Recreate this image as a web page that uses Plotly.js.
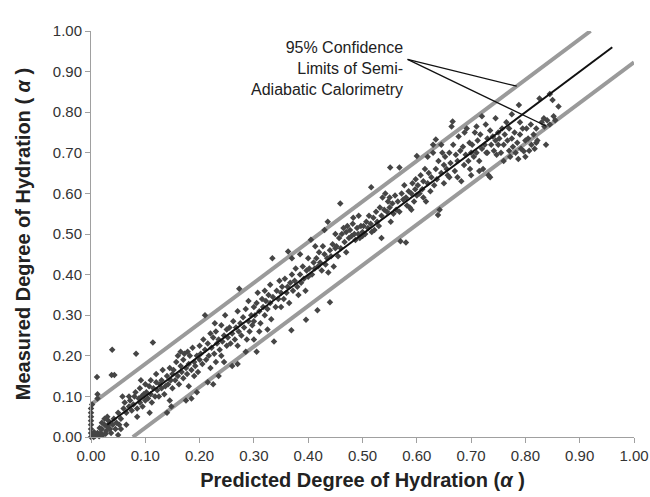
<!DOCTYPE html>
<html>
<head>
<meta charset="utf-8">
<script src="https://cdn.plot.ly/plotly-3.0.1.min.js"></script>
<style>html,body{margin:0;padding:0;background:#fff;}#chart{width:650px;height:497px;}</style>
</head>
<body>
<div id="chart"></div>
<script>
// Measured vs predicted degree of hydration
const ptsOrigin = [[0,0],[0,0.01],[0,0.02],[0,0.03],[0,0.04],[0,0.05],[0,0.06],[0,0.07],[0.002,0.08],[0.003,0.005],[0.005,0],[0.008,0.003],[0.01,0.005],[0.012,0.01],[0.015,0.002],[0.018,0.01],[0.02,0.02],[0.022,0.005],[0.025,0.03],[0.028,0.015],[0.03,0.025],[0.032,0.04],[0.035,0.02],[0.037,0.01],[0.04,0.03],[0.042,0.045],[0.045,0.02],[0.05,0.005],[0.055,0.02],[0.03,0.05],[0.025,0.045],[0.02,0.035],[0.011,0.148],[0.039,0.215],[0.038,0.153],[0.043,0.153],[0.083,0.205],[0.114,0.233],[0.012,0.105],[0.012,0.095],[0.006,0.012],[0.016,0.022],[0.027,0.008],[0.033,0.032],[0.047,0.035],[0.052,0.03]];
const pts005 = [[0.05,0.06],[0.055,0.045],[0.06,0.07],[0.062,0.085],[0.065,0.06],[0.07,0.075],[0.07,0.1],[0.072,0.09],[0.075,0.065],[0.078,0.08],[0.08,0.1],[0.082,0.11],[0.085,0.07],[0.088,0.095],[0.09,0.085],[0.09,0.12],[0.093,0.1],[0.095,0.075],[0.097,0.105],[0.1,0.09],[0.1,0.13],[0.058,0.1],[0.065,0.03],[0.085,0.05],[0.092,0.14]];
const pts010 = [[0.102,0.11],[0.105,0.095],[0.107,0.125],[0.11,0.105],[0.11,0.14],[0.112,0.085],[0.115,0.12],[0.118,0.1],[0.12,0.135],[0.12,0.155],[0.122,0.115],[0.125,0.1],[0.127,0.13],[0.13,0.14],[0.13,0.12],[0.132,0.165],[0.135,0.105],[0.137,0.125],[0.14,0.15],[0.14,0.06],[0.142,0.13],[0.145,0.09],[0.145,0.17],[0.147,0.14],[0.15,0.12],[0.15,0.155],[0.148,0.075],[0.108,0.06]];
const pts015 = [[0.152,0.165],[0.155,0.14],[0.157,0.185],[0.16,0.15],[0.16,0.2],[0.162,0.13],[0.165,0.175],[0.167,0.16],[0.17,0.145],[0.17,0.19],[0.172,0.205],[0.175,0.17],[0.177,0.155],[0.18,0.18],[0.18,0.125],[0.182,0.2],[0.185,0.165],[0.187,0.22],[0.19,0.185],[0.19,0.15],[0.192,0.175],[0.195,0.2],[0.197,0.16],[0.2,0.19],[0.2,0.225],[0.185,0.095],[0.175,0.09],[0.195,0.11],[0.165,0.21],[0.178,0.21]];
const pts020 = [[0.202,0.205],[0.205,0.18],[0.207,0.24],[0.21,0.215],[0.21,0.3],[0.212,0.19],[0.215,0.23],[0.217,0.2],[0.22,0.255],[0.22,0.17],[0.222,0.22],[0.225,0.245],[0.227,0.205],[0.23,0.26],[0.23,0.185],[0.232,0.23],[0.235,0.24],[0.237,0.215],[0.24,0.275],[0.24,0.2],[0.242,0.235],[0.245,0.25],[0.247,0.3],[0.25,0.225],[0.25,0.265],[0.215,0.135],[0.225,0.13],[0.235,0.15],[0.245,0.185],[0.228,0.28]];
const pts025 = [[0.252,0.245],[0.255,0.27],[0.257,0.23],[0.26,0.255],[0.262,0.285],[0.265,0.24],[0.267,0.27],[0.27,0.31],[0.27,0.225],[0.272,0.26],[0.273,0.365],[0.275,0.28],[0.277,0.25],[0.28,0.295],[0.282,0.27],[0.285,0.315],[0.287,0.24],[0.29,0.285],[0.29,0.335],[0.292,0.26],[0.295,0.3],[0.297,0.275],[0.3,0.32],[0.3,0.285],[0.26,0.175],[0.27,0.18],[0.285,0.21],[0.305,0.21],[0.3,0.24]];
const pts030 = [[0.302,0.3],[0.305,0.33],[0.307,0.355],[0.31,0.31],[0.312,0.28],[0.315,0.34],[0.317,0.32],[0.32,0.3],[0.32,0.36],[0.322,0.335],[0.325,0.315],[0.327,0.35],[0.33,0.33],[0.33,0.375],[0.332,0.29],[0.334,0.44],[0.335,0.345],[0.337,0.235],[0.34,0.32],[0.342,0.36],[0.345,0.34],[0.347,0.385],[0.35,0.355],[0.35,0.32],[0.31,0.26],[0.325,0.265]];
const pts035 = [[0.352,0.37],[0.355,0.34],[0.357,0.39],[0.36,0.355],[0.362,0.37],[0.363,0.457],[0.365,0.33],[0.367,0.38],[0.369,0.263],[0.37,0.4],[0.372,0.36],[0.375,0.385],[0.377,0.415],[0.38,0.37],[0.382,0.35],[0.385,0.4],[0.387,0.38],[0.39,0.42],[0.392,0.39],[0.395,0.36],[0.396,0.289],[0.397,0.41],[0.4,0.395],[0.4,0.44],[0.37,0.44],[0.385,0.45]];
const pts040 = [[0.402,0.415],[0.405,0.486],[0.407,0.4],[0.41,0.43],[0.412,0.415],[0.415,0.44],[0.417,0.312],[0.418,0.42],[0.42,0.455],[0.422,0.43],[0.425,0.41],[0.427,0.47],[0.43,0.45],[0.432,0.425],[0.435,0.44],[0.436,0.53],[0.437,0.405],[0.44,0.332],[0.44,0.46],[0.442,0.445],[0.445,0.475],[0.447,0.42],[0.45,0.465],[0.45,0.5],[0.413,0.47],[0.43,0.51]];
const pts045 = [[0.452,0.47],[0.455,0.445],[0.457,0.49],[0.459,0.575],[0.46,0.465],[0.462,0.5],[0.465,0.515],[0.467,0.48],[0.47,0.505],[0.472,0.52],[0.475,0.49],[0.477,0.51],[0.48,0.495],[0.482,0.525],[0.485,0.5],[0.487,0.485],[0.49,0.515],[0.492,0.5],[0.495,0.49],[0.497,0.52],[0.5,0.505],[0.5,0.495],[0.47,0.455],[0.483,0.54],[0.493,0.545]];
const pts050 = [[0.502,0.52],[0.505,0.5],[0.507,0.53],[0.51,0.515],[0.512,0.545],[0.515,0.525],[0.516,0.615],[0.517,0.505],[0.52,0.54],[0.522,0.51],[0.525,0.555],[0.527,0.53],[0.53,0.52],[0.532,0.565],[0.535,0.545],[0.537,0.59],[0.54,0.56],[0.542,0.6],[0.545,0.555],[0.547,0.58],[0.55,0.565],[0.551,0.664],[0.55,0.59],[0.535,0.49],[0.552,0.53]];
const pts055 = [[0.555,0.575],[0.557,0.55],[0.56,0.595],[0.562,0.56],[0.565,0.58],[0.568,0.664],[0.568,0.555],[0.57,0.482],[0.572,0.6],[0.575,0.585],[0.577,0.62],[0.58,0.479],[0.58,0.59],[0.582,0.57],[0.585,0.605],[0.587,0.565],[0.59,0.6],[0.592,0.625],[0.595,0.58],[0.597,0.61],[0.6,0.692],[0.6,0.595],[0.59,0.56],[0.598,0.635]];
const pts060 = [[0.602,0.62],[0.605,0.6],[0.607,0.645],[0.61,0.61],[0.612,0.63],[0.615,0.66],[0.617,0.58],[0.62,0.625],[0.622,0.65],[0.625,0.605],[0.627,0.64],[0.63,0.7],[0.632,0.62],[0.635,0.733],[0.635,0.66],[0.637,0.635],[0.639,0.547],[0.64,0.68],[0.642,0.56],[0.645,0.65],[0.647,0.7],[0.65,0.67],[0.65,0.625],[0.62,0.69],[0.63,0.72],[0.645,0.72],[0.612,0.59]];
const pts065 = [[0.652,0.69],[0.655,0.66],[0.657,0.645],[0.66,0.7],[0.662,0.675],[0.664,0.765],[0.666,0.777],[0.667,0.72],[0.67,0.655],[0.672,0.695],[0.675,0.68],[0.677,0.74],[0.68,0.705],[0.682,0.63],[0.685,0.715],[0.687,0.67],[0.69,0.695],[0.692,0.76],[0.695,0.68],[0.697,0.725],[0.7,0.7],[0.7,0.645],[0.675,0.64],[0.688,0.75],[0.698,0.66],[0.66,0.64]];
const pts070 = [[0.702,0.72],[0.705,0.69],[0.707,0.75],[0.71,0.765],[0.71,0.7],[0.712,0.73],[0.715,0.68],[0.717,0.745],[0.72,0.71],[0.72,0.79],[0.722,0.66],[0.725,0.72],[0.727,0.77],[0.73,0.735],[0.73,0.7],[0.732,0.645],[0.735,0.64],[0.735,0.755],[0.737,0.72],[0.74,0.74],[0.742,0.705],[0.745,0.785],[0.745,0.73],[0.747,0.695],[0.75,0.75],[0.75,0.72],[0.715,0.655],[0.728,0.7]];
const pts075 = [[0.752,0.735],[0.755,0.7],[0.757,0.76],[0.76,0.72],[0.76,0.68],[0.762,0.745],[0.765,0.775],[0.767,0.73],[0.77,0.705],[0.77,0.76],[0.772,0.69],[0.775,0.735],[0.777,0.715],[0.78,0.75],[0.782,0.7],[0.785,0.725],[0.787,0.685],[0.788,0.818],[0.79,0.745],[0.792,0.71],[0.795,0.76],[0.797,0.704],[0.8,0.73],[0.8,0.69],[0.775,0.795],[0.79,0.775]];
const pts080 = [[0.802,0.76],[0.805,0.735],[0.807,0.705],[0.81,0.77],[0.811,0.72],[0.815,0.745],[0.817,0.71],[0.82,0.76],[0.822,0.73],[0.826,0.834],[0.83,0.775],[0.834,0.785],[0.835,0.765],[0.838,0.72],[0.84,0.78],[0.845,0.77],[0.85,0.83],[0.852,0.79],[0.855,0.78],[0.861,0.814],[0.845,0.845],[0.82,0.725]];

// Lines
const fitX = [0.03, 0.96], fitY = [0.03, 0.96];
const upperX = [0, 0.92], upperY = [0.08, 1.0];
const lowerX = [0.077, 1.0], lowerY = [0, 0.923];
const xTicks = [0,0.1,0.2,0.3,0.4,0.5,0.6,0.7,0.8,0.9,1.0];
const yTicks = [0,0.1,0.2,0.3,0.4,0.5,0.6,0.7,0.8,0.9,1.0];
const noteLines = ["95% Confidence", "Limits of Semi-", "Adiabatic Calorimetry"];
const notePointer = {fromX: 0.583, fromY: 0.93, upX: 0.784, upY: 0.864, lowX: 0.838, lowY: 0.766};

const all = [].concat(ptsOrigin, pts005, pts010, pts015, pts020, pts025, pts030, pts035, pts040, pts045, pts050, pts055, pts060, pts065, pts070, pts075, pts080);
const px = all.map(p => p[0]), py = all.map(p => p[1]);

const grey = '#9a9a9a';
const traces = [
  {x: upperX, y: upperY, mode: 'lines', line: {color: grey, width: 4}, hoverinfo: 'skip'},
  {x: lowerX, y: lowerY, mode: 'lines', line: {color: grey, width: 4}, hoverinfo: 'skip'},
  {x: px, y: py, mode: 'markers', marker: {symbol: 'diamond', size: 5, color: '#454545'}, cliponaxis: false},
  {x: fitX, y: fitY, mode: 'lines', line: {color: '#111', width: 2}, hoverinfo: 'skip'},
  {x: [notePointer.fromX, notePointer.upX], y: [notePointer.fromY, notePointer.upY], mode: 'lines', line: {color: '#111', width: 1.3}},
  {x: [notePointer.fromX, notePointer.lowX], y: [notePointer.fromY, notePointer.lowY], mode: 'lines', line: {color: '#111', width: 1.3}}
];

const tickfmt = v => v.toFixed(2);
const FONT = 'Liberation Sans, Arial, sans-serif';
const axisBase = {
  range: [0, 1], showgrid: false, zeroline: false, showline: true, linecolor: '#a0a0a0', linewidth: 1,
  ticks: 'outside', ticklen: 5, tickcolor: '#a0a0a0', tickwidth: 1,
  tickfont: {family: FONT, size: 15, color: '#333'}
};

const layout = {
  width: 650, height: 497,
  margin: {l: 91, r: 16, t: 31, b: 60},
  paper_bgcolor: '#fff', plot_bgcolor: '#fff',
  showlegend: false,
  xaxis: Object.assign({}, axisBase, {
    tickvals: xTicks, ticktext: xTicks.map(tickfmt),
    title: {text: 'Predicted Degree of Hydration (<i>α</i> )', standoff: 9,
      font: {family: FONT, size: 20, color: '#222', weight: 'bold'}}
  }),
  yaxis: Object.assign({}, axisBase, {
    tickvals: yTicks, ticktext: yTicks.map(tickfmt),
    title: {text: 'Measured Degree of Hydration ( <i>α</i> )', standoff: 16,
      font: {family: FONT, size: 20, color: '#222', weight: 'bold'}}
  }),
  annotations: [{
    x: 0.578, y: 0.985, xref: 'x', yref: 'y', xanchor: 'right', yanchor: 'top',
    text: noteLines.join('<br>'), showarrow: false, align: 'right',
    font: {family: FONT, size: 16, color: '#222'}
  }]
};

Plotly.newPlot('chart', traces, layout, {displayModeBar: false, staticPlot: true});
</script>
</body>
</html>
